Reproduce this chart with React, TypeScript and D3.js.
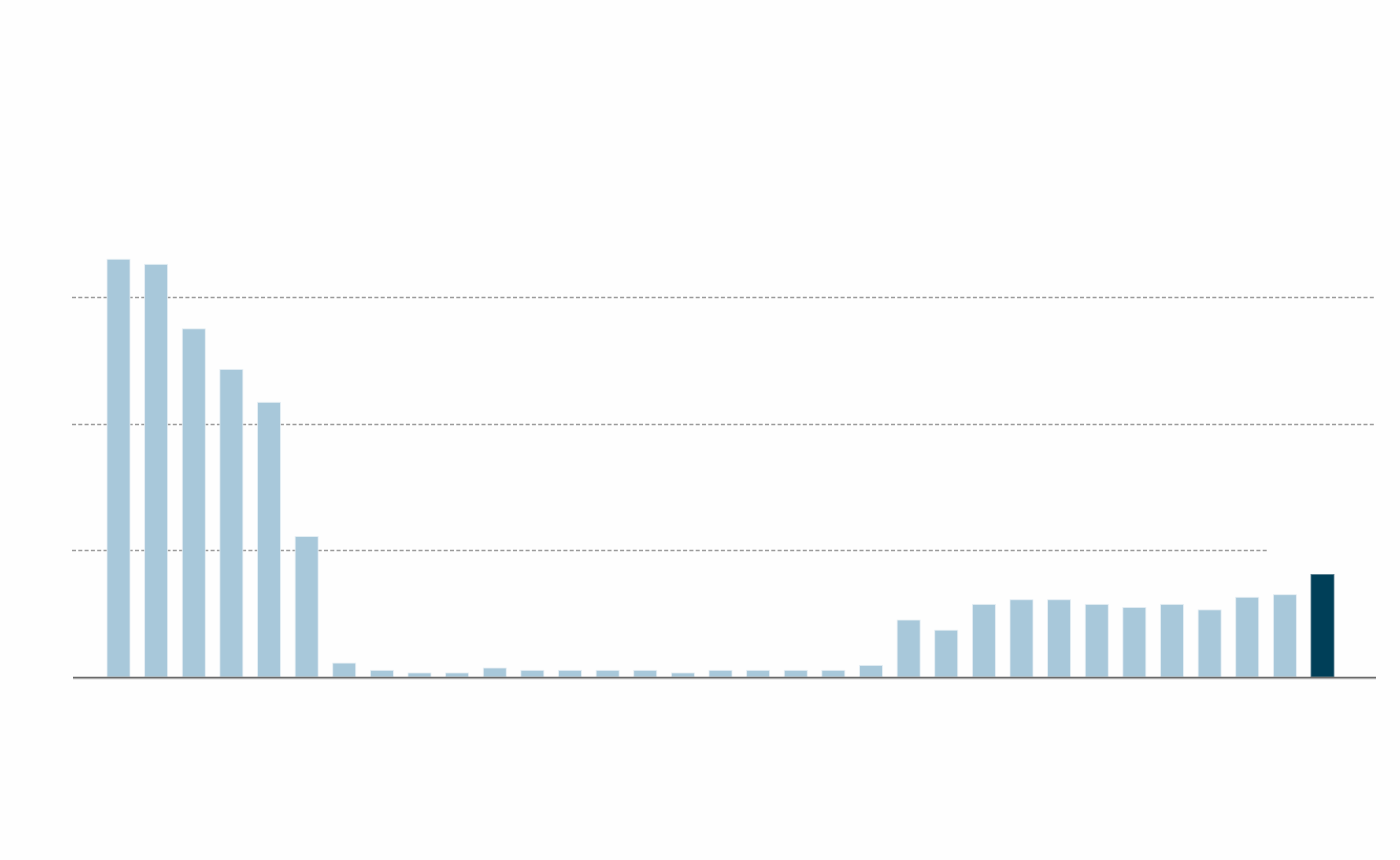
import React from "react";
import * as d3 from "d3";

const categories: string[] = Array.from({ length: 33 }, (_, i) => `c${i + 1}`);
const values: number[] = [
  33.0, 32.6, 27.5, 24.3, 21.7, 11.1, 1.1, 0.53, 0.32, 0.32, 0.71, 0.53, 0.53, 0.53, 0.53, 0.32,
  0.53, 0.53, 0.53, 0.53, 0.92, 4.5, 3.7, 5.74, 6.1, 6.1, 5.74, 5.5, 5.74, 5.3, 6.3, 6.5, 8.1,
];
const highlightIndex = 32;
const gridTicks: number[] = [10, 20, 30];
const gridEnds: number[] = [1267, 1376, 1376];

const W = 1400;
const H = 860;

export default function App() {
  const x = d3
    .scaleBand<string>()
    .domain(categories)
    .range([99.7, 1341.3])
    .paddingInner(0.3887)
    .paddingOuter(0.3887 / 2);
  const y = d3.scaleLinear().domain([0, 30]).range([677, 297.2]);

  return (
    <svg
      width={W}
      height={H}
      style={{ position: "absolute", left: 0, top: 0, background: "#fff" }}
    >
      <rect x={0} y={0} width={W} height={H} fill="#fefefe" />
      {gridTicks.map((t, i) => (
        <line
          key={t}
          x1={72}
          x2={gridEnds[i]}
          y1={Math.round(y(t)) + 0.5}
          y2={Math.round(y(t)) + 0.5}
          stroke="#9a9a9a"
          strokeWidth={1.3}
          strokeDasharray="4,2.3"
        />
      ))}
      {categories.map((c, i) => (
        <rect
          key={c}
          x={x(c)}
          y={y(values[i])}
          width={x.bandwidth()}
          height={y(0) - y(values[i])}
          fill={i === highlightIndex ? "#003f58" : "#a8c8da"}
          stroke={i === highlightIndex ? "#5a7f90" : "#e8f0f5"}
          strokeWidth={0.8}
        />
      ))}
      <line x1={73} x2={1376} y1={679} y2={679} stroke="#d6d6d6" strokeWidth={1} />
      <line x1={73} x2={1376} y1={677.6} y2={677.6} stroke="#6a6a6a" strokeWidth={1.8} />
    </svg>
  );
}
